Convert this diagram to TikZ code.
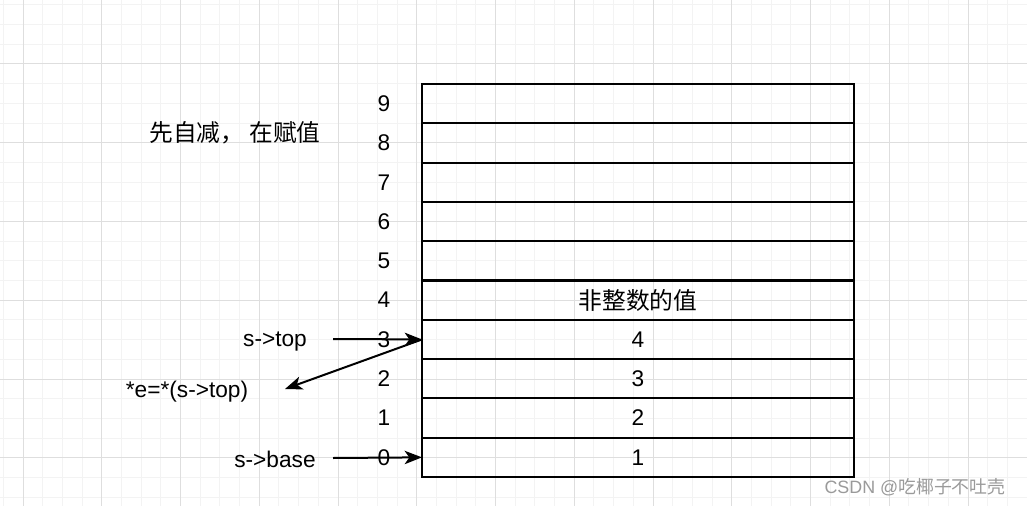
\documentclass[tikz,border=0pt]{standalone}
\usepackage{fontspec}
\setmainfont{Liberation Sans}
\newfontfamily\cjk{Noto Sans CJK SC}
\usepackage{tikz}
\usetikzlibrary{arrows.meta,positioning}
\definecolor{gridmaj}{HTML}{DEDEDE}
\definecolor{gridmin}{HTML}{F3F3F3}
\definecolor{markc}{HTML}{9A9A9A}
\tikzset{
  ar/.style={-{Stealth[length=13pt,width=10pt,inset=3.5pt]},line width=1.5pt,black},
  cell/.style={draw=black,line width=1.6pt,minimum width=324pt,minimum height=29.475pt,inner sep=0pt,outer sep=0pt,font=\fontsize{17}{20}\selectfont},
  num/.style={inner sep=0pt,font=\fontsize{17}{20}\selectfont},
  lbl/.style={inner sep=0pt,font=\fontsize{17}{20}\selectfont},
  zh/.style={inner sep=0pt,font=\cjk\fontsize{17.8}{20}\selectfont}
}

\begin{document}
\begin{tikzpicture}[x=0.75pt,y=-0.75pt]
\useasboundingbox (0,0) rectangle (1027,506);
\fill[white] (0,0) rectangle (1027,506);
% background grid
\foreach \i in {0,...,52} \draw[gridmin,line width=0.75pt] ({3.3125+19.6875*\i},0) -- ++(0,506);
\foreach \i in {0,...,25} \draw[gridmin,line width=0.75pt] (0,{4.9375+19.6875*\i}) -- ++(1027,0);
\foreach \i in {0,...,12} \draw[gridmaj,line width=0.75pt] ({23+78.75*\i},0) -- ++(0,506);
\foreach \i in {0,...,6} \draw[gridmaj,line width=0.75pt] (0,{-14.75+78.75*\i}) -- ++(1027,0);

% stack cells, bottom up
\node[cell] (c0) at (638,457.35) {1};
\node[cell,above=0pt of c0] (c1) {2};
\node[cell,above=0pt of c1] (c2) {3};
\node[cell,above=0pt of c2] (c3) {4};
\node[cell,above=0pt of c3] (c4) {\cjk\fontsize{17.8}{20}\selectfont 非整数的值};
\node[cell,above=0pt of c4] (c5) {};
\node[cell,above=0pt of c5] (c6) {};
\node[cell,above=0pt of c6] (c7) {};
\node[cell,above=0pt of c7] (c8) {};
\node[cell,above=0pt of c8] (c9) {};

% index numbers
\node[num,left=23.7pt of c0] (n0) {0};
\node[num,left=23.7pt of c1] (n1) {1};
\node[num,left=23.7pt of c2] (n2) {2};
\node[num,left=23.7pt of c3] (n3) {3};
\node[num,left=23.7pt of c4] (n4) {4};
\node[num,left=23.7pt of c5] (n5) {5};
\node[num,left=23.7pt of c6] (n6) {6};
\node[num,left=23.7pt of c7] (n7) {7};
\node[num,left=23.7pt of c8] (n8) {8};
\node[num,left=23.7pt of c9] (n9) {9};

% labels
\node[zh] (note) at (235,133) {先自减， 在赋值};
\node[lbl] (ltop) at (275,342) {s->top};
\node[lbl] (lval) at (187,392) {*e=*(s->top)};
\node[lbl] (lbase) at (275,459) {s->base};
\coordinate (ptop) at (333,339);
\coordinate (pbase) at (333,458);
\coordinate (pval) at (285,389);

% pointers
\draw[ar] (ptop) -- (c3.west);
\draw[ar] (c3.west) -- (pval);
\draw[ar] (pbase) -- (c0.west);

\node[inner sep=0pt,text=markc,font=\fontsize{13.4}{15}\selectfont] (mark) at (915,487) {CSDN @{\cjk 吃椰子不吐壳}};
\end{tikzpicture}
\end{document}
